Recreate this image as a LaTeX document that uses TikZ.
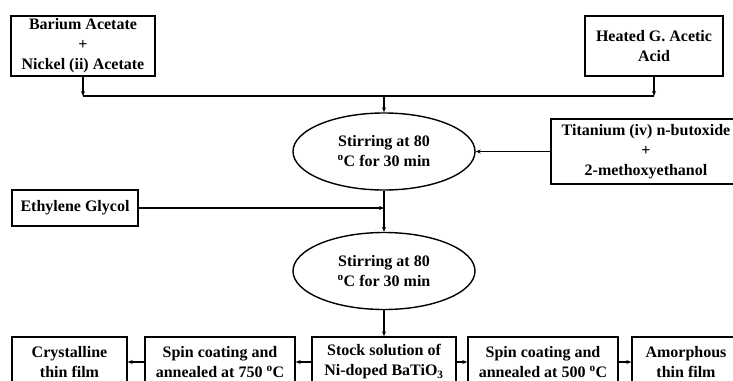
\documentclass[tikz,border=0pt]{standalone}
\usepackage{fontspec}
\setmainfont{Liberation Serif}
\usetikzlibrary{arrows.meta,shapes.geometric}

\tikzset{
    stepbox/.style={draw, line width=1.4pt, align=center, inner sep=1pt,
        font=\bfseries\fontsize{16}{20}\selectfont},
    stirring/.style={draw, ellipse, line width=1.4pt, align=center, inner sep=0pt,
        minimum width=182pt, minimum height=77pt,
        font=\bfseries\fontsize{16}{20}\selectfont},
    flow/.style={line width=1.1pt, -{Stealth[length=5pt,width=4pt]}}
}

\begin{document}
\begin{tikzpicture}[x=1pt,y=-1pt]
        \useasboundingbox (0,0) rectangle (733,380);
        \clip (0,0) rectangle (733,380);

        % Starting materials
        \node[stepbox, minimum width=144pt, minimum height=60pt] (barium) at (83,46) {Barium Acetate\\+\\Nickel (ii) Acetate};
        \node[stepbox, minimum width=138pt, minimum height=60pt] (acid) at (654,46) {Heated G. Acetic\\Acid};
        \node[stepbox, minimum width=190pt, minimum height=65pt] (titanium) at (646,151.5) {Titanium (iv) n-butoxide\\+\\2-methoxyethanol};
        \node[stepbox, minimum width=126pt, minimum height=36pt] (glycol) at (75,208) {Ethylene Glycol};

        % Stirring steps
        \node[stirring] (stirA) at (384,151.5) {Stirring at 80\\\textsuperscript{o}C for 30 min};
        \node[stirring] (stirB) at (384,271) {Stirring at 80\\\textsuperscript{o}C for 30 min};

        % Bottom row
        \node[stepbox, minimum width=144pt, minimum height=50pt] (stock) at (384,362) {Stock solution of\\Ni-doped BaTiO\textsubscript{3}};
        \node[stepbox, minimum width=150pt, minimum height=50pt] (spinhot) at (220,362) {Spin coating and\\annealed at 750 \textsuperscript{o}C};
        \node[stepbox, minimum width=115pt, minimum height=50pt] (crystal) at (69.5,362) {Crystalline\\thin film};
        \node[stepbox, minimum width=150pt, minimum height=50pt] (spinwarm) at (543,362) {Spin coating and\\annealed at 500 \textsuperscript{o}C};
        \node[stepbox, minimum width=108pt, minimum height=50pt] (amorph) at (686,362) {Amorphous\\thin film};

        % Lines
        \coordinate (join) at (384,96);
        \draw[flow] (barium.south) -- (barium.south |- join);
        \draw[flow] (acid.south) -- (acid.south |- join);
        \draw[line width=1.1pt] (barium.south |- join) -- (acid.south |- join);
        \draw[flow] (join) -- (stirA.north);
        \draw[flow] (titanium.west) -- (stirA.east);
        \draw[flow] (stirA.south) -- (stirB.north);
        \draw[flow] (glycol.east) -- (glycol.east -| stirA.south);
        \draw[flow] (stirB.south) -- (stock.north);
        \draw[flow] (stock.west) -- (spinhot.east);
        \draw[flow] (spinhot.west) -- (crystal.east);
        \draw[flow] (stock.east) -- (spinwarm.west);
        \draw[flow] (spinwarm.east) -- (amorph.west);
\end{tikzpicture}
\end{document}
